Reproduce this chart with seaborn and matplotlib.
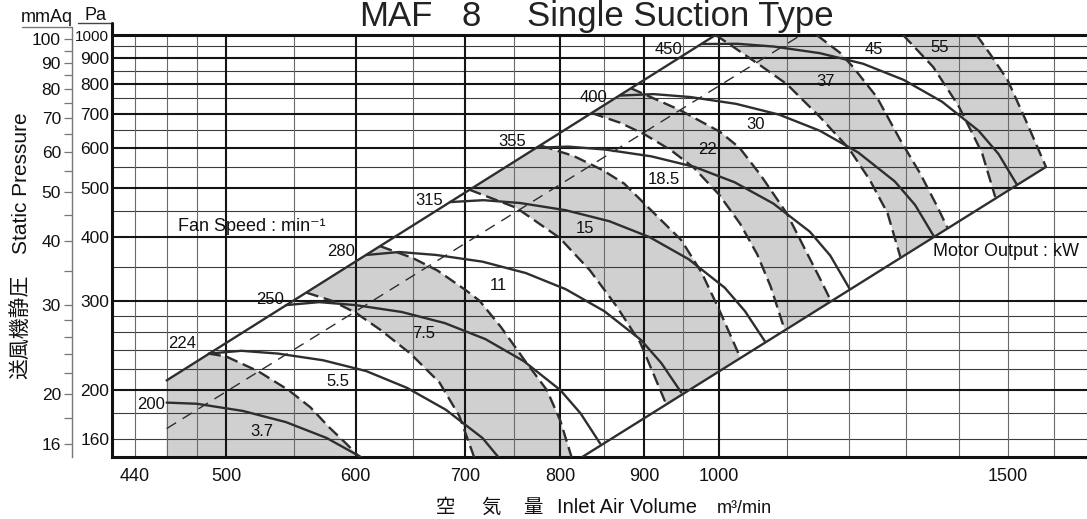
import numpy as np
import pandas as pd
import matplotlib
matplotlib.use('Agg')
import matplotlib.pyplot as plt
from matplotlib.ticker import FixedLocator, NullLocator, NullFormatter
from matplotlib.lines import Line2D
import seaborn as sns

# fan curves: inlet air volume (m3/min) vs static pressure (Pa), per fan speed (min^-1)
Q_200 = [460, 480, 512, 544, 576, 606]
P_200 = [189, 188, 182, 173, 161, 147]
Q_224 = [488, 511, 538, 573, 609, 645, 681, 717, 734]
P_224 = [236, 239, 236, 229, 218, 202, 183, 161, 147]
Q_250 = [544, 570, 600, 640, 680, 720, 760, 800, 823, 846]
P_250 = [294, 298, 294, 285, 271, 252, 228, 200, 180, 157]
Q_280 = [609, 638, 672, 717, 762, 806, 851, 896, 922, 948]
P_280 = [369, 374, 369, 358, 340, 316, 286, 251, 226, 198]
Q_315 = [685, 718, 756, 806, 857, 907, 958, 1008, 1037, 1066]
P_315 = [469, 473, 467, 452, 430, 400, 362, 318, 286, 250]
Q_355 = [774, 809, 852, 909, 966, 1022, 1079, 1136, 1169, 1201]
P_355 = [600, 603, 595, 577, 550, 513, 466, 410, 368, 317]
Q_400 = [870, 912, 960, 1024, 1088, 1152, 1216, 1280, 1317, 1352]
P_400 = [760, 765, 755, 732, 697, 648, 587, 515, 463, 402]
Q_450 = [976, 1026, 1080, 1152, 1224, 1296, 1368, 1440, 1481, 1520]
P_450 = [960, 961, 949, 921, 878, 816, 739, 648, 583, 507]

# motor output limit curves (kW)
KW_3_7_Q = [488, 500, 523, 546, 563, 578, 592, 604]
KW_3_7_P = [236, 233, 218, 200, 185, 169, 157, 147]
KW_5_5_Q = [560, 580, 600, 621, 648, 675, 694, 709]
KW_5_5_P = [311, 300, 284, 263, 236, 207, 178, 147]
KW_7_5_Q = [621, 650, 673, 700, 714, 736, 760, 785, 800, 813]
KW_7_5_P = [384, 364, 344, 315, 300, 266, 230, 200, 174, 147]
KW_11_Q = [704, 752, 799, 834, 866, 895, 912, 928]
KW_11_P = [496, 457, 399, 344, 292, 248, 215, 188]
KW_15_Q = [778, 815, 849, 875, 905, 948, 976, 1000, 1030]
KW_15_P = [606, 578, 542, 510, 458, 395, 340, 288, 232]
KW_18_5_Q = [836, 870, 900, 934, 965, 1000, 1030, 1055, 1075, 1096]
KW_18_5_P = [702, 672, 638, 594, 548, 485, 425, 370, 320, 264]
KW_22_Q = [883, 946, 1001, 1029, 1060, 1100, 1130, 1152, 1170]
KW_22_P = [786, 712, 645, 600, 530, 445, 375, 332, 300]
KW_30_Q = [995, 1016, 1063, 1100, 1152, 1200, 1236, 1267, 1290]
KW_30_P = [1000, 956, 865, 800, 690, 598, 518, 446, 366]
KW_37_Q = [1147, 1186, 1207, 1248, 1290, 1326, 1359, 1378]
KW_37_P = [1000, 921, 865, 755, 621, 535, 459, 418]
KW_45_Q = [1295, 1351, 1400, 1424, 1447, 1474]
KW_45_P = [1000, 865, 725, 650, 586, 480]
KW_55_Q = [1436, 1465, 1500, 1537, 1583]
KW_55_P = [1000, 913, 815, 685, 550]

# boundary lines
UPPER_Q = [460, 995]
UPPER_P = [209, 1000]
LOWER_Q = [823, 1583]
LOWER_P = [147, 550]
THIN_Q = [460, 1122]
THIN_P = [168, 1000]

# labels
SPEED_LABELS = ['200', '224', '250', '280', '315', '355', '400', '450']
SPEED_LABEL_Q = [450, 470, 532, 588, 665, 748, 838, 931]
SPEED_LABEL_P = [187, 247, 302, 375, 473, 618, 753, 938]
KW_LABELS = ['3.7', '5.5', '7.5', '11', '15', '18.5', '22', '30', '37', '45', '55']
KW_LABEL_Q = [526, 585, 660, 733, 828, 925, 984, 1052, 1162, 1243, 1364]
KW_LABEL_P = [166, 208, 258, 322, 416, 520, 594, 668, 810, 938, 945]

X_TICKS = [440, 500, 600, 700, 800, 900, 1000, 1500]
X_GRID_MAJOR = [500, 600, 700, 800, 900, 1000]
X_GRID_MINOR = [440, 460, 480, 550, 650, 750, 850, 950, 1100, 1200, 1300, 1400, 1500, 1600]
PA_TICKS = [160, 200, 300, 400, 500, 600, 700, 800, 900, 1000]
Y_GRID_MAJOR = [200, 300, 400, 500, 600, 700, 800, 900]
Y_GRID_MINOR = [160, 180, 220, 240, 260, 280, 350, 450, 550, 650, 750, 850, 950]
MMAQ_TICKS = [16, 20, 30, 40, 50, 60, 70, 80, 90, 100]
MMAQ_MINOR = [18, 22, 24, 26, 28, 35, 45, 55, 65, 75, 85, 95]

sns.set_theme(style='white')
plt.rcParams['font.family'] = ['Liberation Sans', 'Noto Sans CJK JP', 'DejaVu Sans']

W, H = 1087, 519
fig = plt.figure(figsize=(W / 100, H / 100), dpi=100)
ax = fig.add_axes([112 / W, 1 - 457 / H, (W - 112) / W, (457 - 35) / H])
ax.set_xscale('log')
ax.set_yscale('log')
ax.set_xlim(426, 1677)
ax.set_ylim(147.7, 1000)
ax.set_facecolor('white')

GRAY = '#d0d0d0'
INK = '#2e2e2e'


def band(aq, ap, bq, bp):
    return list(aq) + list(bq)[::-1], list(ap) + list(bp)[::-1]


# shaded motor-output bands
bq, bp = [UPPER_Q[0], UPPER_Q[0]] + KW_3_7_Q, [KW_3_7_P[-1], UPPER_P[0]] + KW_3_7_P
ax.fill(bq, bp, color=GRAY, lw=0, zorder=1)
for aq, ap, cq, cp in [(KW_5_5_Q, KW_5_5_P, KW_7_5_Q, KW_7_5_P),
                       (KW_11_Q, KW_11_P, KW_15_Q, KW_15_P),
                       (KW_18_5_Q, KW_18_5_P, KW_22_Q, KW_22_P),
                       (KW_30_Q, KW_30_P, KW_37_Q, KW_37_P),
                       (KW_45_Q, KW_45_P, KW_55_Q, KW_55_P)]:
    bq, bp = band(aq, ap, cq, cp)
    ax.fill(bq, bp, color=GRAY, lw=0, zorder=1)

# grid
for v in Y_GRID_MINOR:
    ax.axhline(v, color='#3c3c3c', lw=0.8, zorder=1.5)
for v in Y_GRID_MAJOR:
    ax.axhline(v, color='#151515', lw=1.5, zorder=1.6)
for v in X_GRID_MINOR:
    ax.axvline(v, color='#6a6a6a', lw=0.8, zorder=1.5)
for v in X_GRID_MAJOR:
    ax.axvline(v, color='#151515', lw=1.5, zorder=1.6)

# boundary lines
for q, p in [(UPPER_Q, UPPER_P), (LOWER_Q, LOWER_P)]:
    sns.lineplot(x=q, y=p, ax=ax, color=INK, lw=1.7, sort=False, estimator=None, zorder=3)
sns.lineplot(x=THIN_Q, y=THIN_P, ax=ax, color=INK, lw=1.0, sort=False, estimator=None,
             linestyle=(0, (8, 5.5)), zorder=3)

# fan speed curves
for q, p in [(Q_200, P_200), (Q_224, P_224), (Q_250, P_250), (Q_280, P_280),
             (Q_315, P_315), (Q_355, P_355), (Q_400, P_400), (Q_450, P_450)]:
    sns.lineplot(x=q, y=p, ax=ax, color=INK, lw=1.7, sort=False, estimator=None, zorder=3)

# motor output curves
for q, p in [(KW_3_7_Q, KW_3_7_P), (KW_5_5_Q, KW_5_5_P), (KW_7_5_Q, KW_7_5_P),
             (KW_11_Q, KW_11_P), (KW_15_Q, KW_15_P), (KW_18_5_Q, KW_18_5_P),
             (KW_22_Q, KW_22_P), (KW_30_Q, KW_30_P), (KW_37_Q, KW_37_P),
             (KW_45_Q, KW_45_P), (KW_55_Q, KW_55_P)]:
    sns.lineplot(x=q, y=p, ax=ax, color=INK, lw=1.7, sort=False, estimator=None,
                 linestyle=(0, (5.2, 2.4)), zorder=3)

for t, q, p in zip(SPEED_LABELS, SPEED_LABEL_Q, SPEED_LABEL_P):
    ax.text(q, p, t, fontsize=12, ha='center', va='center', color='#111', zorder=5)
for t, q, p in zip(KW_LABELS, KW_LABEL_Q, KW_LABEL_P):
    ax.text(q, p, t, fontsize=12, ha='center', va='center', color='#111', zorder=5)

ax.text(0.068, 0.547, 'Fan Speed : min⁻¹', transform=ax.transAxes, fontsize=13,
        ha='left', va='center', color='#111', zorder=5)
ax.text(0.842, 0.486, 'Motor Output : kW', transform=ax.transAxes, fontsize=13,
        ha='left', va='center', color='#111', zorder=5)

# axes and ticks
for s in ['top', 'left', 'bottom']:
    ax.spines[s].set_linewidth(2.2)
    ax.spines[s].set_color('#111')
ax.spines['right'].set_visible(False)
ax.xaxis.set_major_locator(FixedLocator(X_TICKS))
ax.xaxis.set_minor_locator(NullLocator())
ax.set_xticklabels([str(v) for v in X_TICKS])
ax.yaxis.set_major_locator(FixedLocator(PA_TICKS))
ax.yaxis.set_minor_locator(NullLocator())
ax.set_yticklabels([str(v) for v in PA_TICKS])
ax.tick_params(axis='x', length=0, pad=8, labelsize=13, labelcolor='#111')
ax.tick_params(axis='y', length=0, pad=2, labelsize=12.5, labelcolor='#111')
for tk in ax.yaxis.get_major_ticks():
    if tk.label1.get_text() == '1000':
        tk.label1.set_fontsize(11)
ax.set_xlabel('')
ax.set_ylabel('')

sec = ax.secondary_yaxis(-40 / 975, functions=(lambda p: p / 9.80665, lambda m: m * 9.80665))
sec.yaxis.set_major_locator(FixedLocator(MMAQ_TICKS))
sec.yaxis.set_minor_locator(FixedLocator(MMAQ_MINOR))
sec.yaxis.set_minor_formatter(NullFormatter())
sec.set_yticklabels([str(v) for v in MMAQ_TICKS])
sec.tick_params(which='both', length=6, width=0.9, color='#777', pad=2,
                labelsize=12.5, labelcolor='#111')
sec.spines['left'].set_color('#777')
sec.spines['left'].set_linewidth(1.0)


def fx(px):
    return px / W


def fy(py):
    return 1 - py / H


# unit headers
fig.add_artist(Line2D([fx(22), fx(72), fx(72)], [fy(27), fy(27), fy(35)], color='#777', lw=1.0))
fig.add_artist(Line2D([fx(78), fx(112), fx(112)], [fy(23), fy(23), fy(35)], color='#444', lw=1.0))
fig.add_artist(Line2D([fx(112), fx(112)], [fy(23), fy(35)], color='#111', lw=2.2))
fig.text(fx(47), fy(22), 'mmAq', fontsize=13, ha='center', va='baseline', color='#111')
fig.text(fx(95), fy(20), 'Pa', fontsize=13, ha='center', va='baseline', color='#111')

fig.text(fx(22), fy(183), 'Static Pressure', fontsize=15, rotation=90,
         ha='center', va='center', color='#111')
fig.text(fx(20), fy(327), '送風機静圧', fontsize=15, rotation=90,
         ha='center', va='center', color='#111', family=['Noto Sans CJK JP'])

# title
fig.text(fx(433), fy(26), 'MAF', fontsize=25, ha='right', va='baseline', color='#222')
fig.text(fx(471), fy(26), '8', fontsize=25, ha='center', va='baseline', color='#222')
fig.text(fx(527), fy(26), 'Single Suction Type', fontsize=25, ha='left', va='baseline', color='#222')

# x axis label
for ch, px in [('空', 446), ('気', 491), ('量', 533)]:
    fig.text(fx(px), fy(513), ch, fontsize=14, ha='center', va='baseline', color='#111',
             family=['Noto Sans CJK JP'])
fig.text(fx(557), fy(513), 'Inlet Air Volume', fontsize=14.5, ha='left', va='baseline', color='#111')
fig.text(fx(717), fy(513), 'm³/min', fontsize=13, ha='left', va='baseline', color='#111')

fig.savefig('out.png', dpi=100)
